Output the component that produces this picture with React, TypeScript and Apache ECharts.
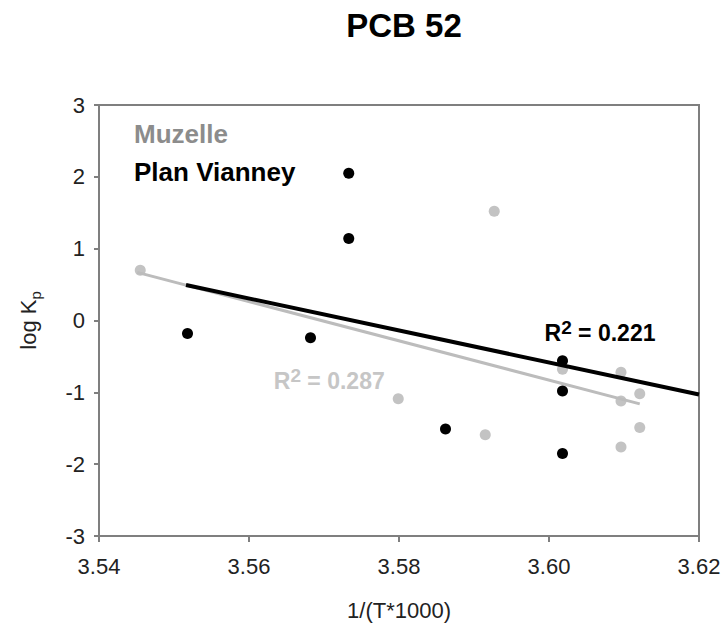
import React, { useEffect, useRef } from "react";
import * as echarts from "echarts";

const titleText = "PCB 52";
const seriesNames = ["Muzelle", "Plan Vianney"];

const muzelleX = [3.5455, 3.5927, 3.5799, 3.5915, 3.6018, 3.6096, 3.6096, 3.6121, 3.6121, 3.6096];
const muzelleY = [0.7, 1.52, -1.09, -1.59, -0.68, -0.72, -1.12, -1.02, -1.49, -1.76];

const vianneyX = [3.5733, 3.5733, 3.5518, 3.5682, 3.6018, 3.6018, 3.5862, 3.6018];
const vianneyY = [2.05, 1.14, -0.18, -0.24, -0.56, -0.98, -1.51, -1.85];

const trendMuzelleX = [3.5451, 3.6121];
const trendMuzelleY = [0.67, -1.16];
const trendVianneyX = [3.5516, 3.62];
const trendVianneyY = [0.494, -1.03];

const r2Muzelle = "0.287";
const r2Vianney = "0.221";
const r2MuzellePos = [3.5707, -0.82];
const r2VianneyPos = [3.6068, -0.15];

const xTicks = { min: 3.54, max: 3.62, interval: 0.02 };
const yTicks = { min: -3, max: 3, interval: 1 };

const FONT = "Liberation Sans, Arial, Helvetica, sans-serif";
const GRAY_PT = "#c3c3c3";
const GRAY_LINE = "#bcbcbc";
const GRAY_LEGEND = "#8c8c8c";
const GRAY_R2 = "#c6c6c6";
const AXIS = "#7f7f7f";

const zip = (xs: number[], ys: number[]) => xs.map((x, i) => [x, ys[i]]);

const r2Label = (value: string, color: string) => ({
  show: true,
  position: "inside",
  formatter: `{a|R}{b|2}{a| = ${value}}`,
  rich: {
    a: { fontSize: 23, fontWeight: "bold", color, fontFamily: FONT, lineHeight: 27, verticalAlign: "bottom" },
    b: { fontSize: 19, fontWeight: "bold", color, fontFamily: FONT, lineHeight: 19, verticalAlign: "top" },
  },
});

export default function App() {
  const ref = useRef<HTMLDivElement>(null);
  useEffect(() => {
    document.body.style.margin = "0";
    if (!ref.current) return;
    const chart = echarts.init(ref.current, null, { renderer: "svg" });
    chart.setOption({
      animation: false,
      backgroundColor: "#ffffff",
      textStyle: { fontFamily: FONT },
      title: {
        text: titleText,
        left: 399,
        textAlign: "center",
        top: 4,
        textStyle: { fontSize: 33, fontWeight: "bold", color: "#000", fontFamily: FONT },
      },
      legend: {
        orient: "vertical",
        left: 124,
        top: 116,
        icon: "none",
        itemWidth: 0,
        itemHeight: 26,
        itemGap: 12,
        selectedMode: false,
        textStyle: { fontSize: 26, fontWeight: "bold", fontFamily: FONT },
        data: [
          { name: seriesNames[0], textStyle: { color: GRAY_LEGEND } },
          { name: seriesNames[1], textStyle: { color: "#000" } },
        ],
      },
      grid: {
        left: 99,
        right: 26,
        top: 105,
        bottom: 86,
        show: true,
        borderColor: AXIS,
        borderWidth: 2,
      },
      xAxis: {
        type: "value",
        min: xTicks.min,
        max: xTicks.max,
        interval: xTicks.interval,
        name: "1/(T*1000)",
        nameLocation: "middle",
        nameGap: 63,
        nameTextStyle: { fontSize: 22, color: "#222", fontFamily: FONT },
        axisLine: { show: true, onZero: false, lineStyle: { color: AXIS, width: 2 } },
        axisTick: { show: true, length: 6, lineStyle: { color: AXIS, width: 2 } },
        splitLine: { show: false },
        axisLabel: {
          fontSize: 22,
          color: "#222",
          margin: 19,
          fontFamily: FONT,
          formatter: (v: number) => v.toFixed(2),
        },
      },
      yAxis: {
        type: "value",
        min: yTicks.min,
        max: yTicks.max,
        interval: yTicks.interval,
        name: "{a|log K}{b|p}",
        nameLocation: "middle",
        nameGap: 56,
        nameTextStyle: {
          rich: {
            a: { fontSize: 22, color: "#222", fontFamily: FONT, lineHeight: 26, verticalAlign: "top" },
            b: { fontSize: 15, color: "#222", fontFamily: FONT, lineHeight: 15, verticalAlign: "bottom" },
          },
        },
        axisLine: { show: true, onZero: false, lineStyle: { color: AXIS, width: 2 } },
        axisTick: { show: true, length: 5, lineStyle: { color: AXIS, width: 2 } },
        splitLine: { show: false },
        axisLabel: { fontSize: 22, color: "#222", margin: 14, fontFamily: FONT },
      },
      series: [
        {
          name: seriesNames[0],
          type: "scatter",
          symbol: "circle",
          symbolSize: 11,
          itemStyle: { color: GRAY_PT, opacity: 1 },
          data: zip(muzelleX, muzelleY),
          z: 2,
        },
        {
          name: seriesNames[0] + " trend",
          type: "line",
          symbol: "none",
          lineStyle: { color: GRAY_LINE, width: 3 },
          data: zip(trendMuzelleX, trendMuzelleY),
          z: 3,
          silent: true,
          markPoint: {
            symbol: "circle",
            symbolSize: 0,
            silent: true,
            label: r2Label(r2Muzelle, GRAY_R2),
            data: [{ coord: r2MuzellePos }],
          },
        },
        {
          name: seriesNames[1],
          type: "scatter",
          symbol: "circle",
          symbolSize: 11,
          itemStyle: { color: "#000", opacity: 1 },
          data: zip(vianneyX, vianneyY),
          z: 4,
        },
        {
          name: seriesNames[1] + " trend",
          type: "line",
          symbol: "none",
          lineStyle: { color: "#000", width: 4 },
          data: zip(trendVianneyX, trendVianneyY),
          z: 5,
          silent: true,
          markPoint: {
            symbol: "circle",
            symbolSize: 0,
            silent: true,
            label: r2Label(r2Vianney, "#000"),
            data: [{ coord: r2VianneyPos }],
          },
        },
      ],
    });
    return () => chart.dispose();
  }, []);
  return (
    <div
      ref={ref}
      style={{ position: "absolute", left: 0, top: 0, width: 725, height: 626 }}
    />
  );
}
